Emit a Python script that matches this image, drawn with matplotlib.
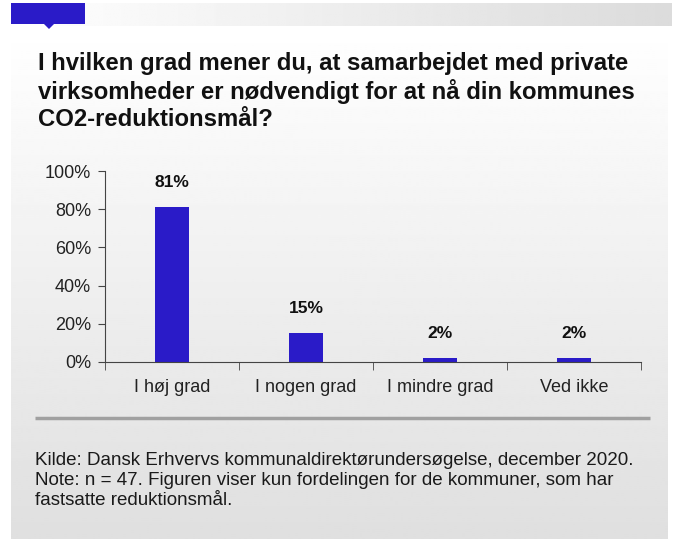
import numpy as np
import matplotlib
matplotlib.use("Agg")
import matplotlib.pyplot as plt
from matplotlib.patches import Rectangle, Polygon

plt.rcParams['font.family'] = ['Liberation Sans', 'DejaVu Sans']

categories = ["I høj grad", "I nogen grad", "I mindre grad", "Ved ikke"]
values = [81, 15, 2, 2]
y_ticks = [0, 20, 40, 60, 80, 100]

title = ("I hvilken grad mener du, at samarbejdet med private\n"
         "virksomheder er nødvendigt for at nå din kommunes\n"
         "CO2-reduktionsmål?")
note = ("Kilde: Dansk Erhvervs kommunaldirektørundersøgelse, december 2020.\n"
        "Note: n = 47. Figuren viser kun fordelingen for de kommuner, som har\n"
        "fastsatte reduktionsmål.")

blue = "#2a1bc8"
W, H = 675, 539

fig = plt.figure(figsize=(W / 100, H / 100), dpi=100)

# background layer in pixel coords
bg = fig.add_axes([0, 0, 1, 1])
bg.axis("off")

# top strip, white -> gray from left to right
strip = np.linspace(1.0, 0.86, 256)[None, :]
bg.imshow(strip, cmap="gray", vmin=0, vmax=1, extent=(11, 672, 26, 3), aspect="auto")
# main panel, white -> gray from top to bottom
panel = np.linspace(1.0, 0.875, 256)[:, None]
bg.imshow(panel, cmap="gray", vmin=0, vmax=1, extent=(11, 668, 539, 28), aspect="auto")
bg.set_xlim(0, W)
bg.set_ylim(H, 0)

bg.add_patch(Rectangle((11, 3), 74, 21, color=blue, lw=0))
bg.add_patch(Polygon([(44, 24), (54, 24), (49, 29)], closed=True, color=blue, lw=0))
bg.plot([35, 650], [418, 418], color="#a0a0a0", lw=2.5, solid_capstyle="butt")

fig.text(38 / W, 1 - 52 / H, title, fontsize=17.2, fontweight="bold", va="top", ha="left",
         linespacing=1.2, color="#111111")
fig.text(35 / W, 1 - 452 / H, note, fontsize=13.5, va="top", ha="left",
         linespacing=1.22, color="#1a1a1a")

# chart
ax = fig.add_axes([105 / W, 1 - 362 / H, 536 / W, 191 / H])
ax.patch.set_alpha(0)
x = np.arange(len(categories))
ax.bar(x, values, width=0.25, color=blue)
for xi, v in zip(x, values):
    ax.text(xi, v + 9, f"{v}%", ha="center", va="bottom", fontsize=12.5,
            fontweight="bold", color="#111111")

ax.set_xlim(-0.5, len(categories) - 0.5)
ax.set_ylim(0, 100)
ax.set_yticks(y_ticks)
ax.set_yticklabels([f"{t}%" for t in y_ticks], fontsize=13, color="#222222")
ax.set_xticks(x)
ax.set_xticklabels(categories, fontsize=13, color="#222222")
ax.set_xticks(np.arange(len(categories) + 1) - 0.5, minor=True)
ax.tick_params(axis="x", which="major", length=0, pad=12)
ax.tick_params(axis="x", which="minor", length=6, color="#444444")
ax.tick_params(axis="y", length=5, color="#444444", pad=5)
for s in ["top", "right"]:
    ax.spines[s].set_visible(False)
ax.spines["left"].set_color("#444444")
ax.spines["bottom"].set_color("#444444")

fig.savefig("out.png", dpi=100)
